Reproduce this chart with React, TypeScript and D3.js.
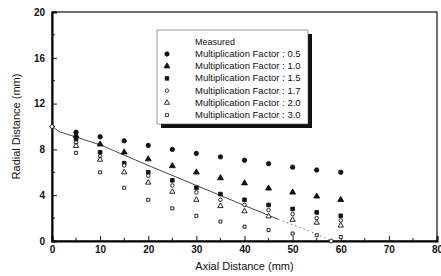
import React, { useEffect, useRef } from "react";
import * as d3 from "d3";

const axialPositions = [5, 10, 15, 20, 25, 30, 35, 40, 45, 50, 55, 60];
const factor05 = [9.5, 9.1, 8.75, 8.35, 8.0, 7.65, 7.35, 7.05, 6.75, 6.45, 6.2, 6.0];
const factor10 = [9.2, 8.45, 7.75, 7.15, 6.55, 6.0, 5.5, 5.05, 4.6, 4.25, 3.9, 3.6];
const factor15 = [8.9, 7.75, 6.8, 6.0, 5.3, 4.65, 4.1, 3.6, 3.15, 2.8, 2.5, 2.2];
const factor17 = [8.6, 7.4, 6.6, 5.7, 4.85, 4.25, 3.6, 3.15, 2.7, 2.35, 2.0, 1.8];
const factor20 = [8.3, 7.1, 6.0, 5.1, 4.3, 3.6, 3.05, 2.6, 2.15, 1.85, 1.6, 1.35];
const factor30 = [7.7, 6.0, 4.65, 3.6, 2.85, 2.2, 1.7, 1.25, 0.95, 0.65, 0.5, 0.35];

const seriesLabels = [
  "Multiplication Factor : 0.5",
  "Multiplication Factor : 1.0",
  "Multiplication Factor : 1.5",
  "Multiplication Factor : 1.7",
  "Multiplication Factor : 2.0",
  "Multiplication Factor : 3.0",
];

// calculated profile (solid part, then dotted tail)
const profileX = [0, 1.5, 10, 20, 30, 40, 47];
const profileY = [10, 9.55, 8.4, 6.6, 4.85, 3.1, 1.9];
const tailX = [47, 52, 55, 58];
const tailY = [1.9, 1.1, 0.6, 0];

const xTicks = [0, 10, 20, 30, 40, 50, 60, 70, 80];
const yTicks = [0, 4, 8, 12, 16, 20];

function App() {
  const ref = useRef<SVGSVGElement>(null);

  useEffect(() => {
    const svg = d3.select(ref.current);
    svg.selectAll("*").remove();

    const left = 52;
    const right = 437;
    const top = 12;
    const bottom = 241;
    const font = "Arial, 'Liberation Sans', sans-serif";

    const x = d3.scaleLinear().domain([0, 80]).range([left, right]);
    const y = d3.scaleLinear().domain([0, 20]).range([bottom, top]);

    // frame
    svg
      .append("rect")
      .attr("x", left)
      .attr("y", top)
      .attr("width", right - left)
      .attr("height", bottom - top)
      .attr("fill", "none")
      .attr("stroke", "#111")
      .attr("stroke-width", 1.2);

    // x axis, ticks pointing inward
    const xAxis = svg
      .append("g")
      .attr("transform", `translate(0,${bottom})`)
      .call(d3.axisBottom(x).tickValues(xTicks).tickSize(-5).tickPadding(7));
    xAxis.select(".domain").attr("stroke-width", 2);
    xAxis
      .append("g")
      .selectAll("line")
      .data(d3.range(5, 80, 10))
      .join("line")
      .attr("x1", (d) => x(d))
      .attr("x2", (d) => x(d))
      .attr("y1", 0)
      .attr("y2", -3)
      .attr("stroke", "#111");

    const yAxis = svg
      .append("g")
      .attr("transform", `translate(${left},0)`)
      .call(d3.axisLeft(y).tickValues(yTicks).tickSize(-5).tickPadding(7));
    yAxis.select(".domain").attr("stroke-width", 2);
    yAxis
      .append("g")
      .selectAll("line")
      .data(d3.range(2, 20, 4))
      .join("line")
      .attr("x1", 0)
      .attr("x2", 3)
      .attr("y1", (d) => y(d))
      .attr("y2", (d) => y(d))
      .attr("stroke", "#111");

    svg
      .selectAll(".tick text")
      .attr("font-family", font)
      .attr("font-size", 10)
      .attr("font-weight", "bold")
      .attr("fill", "#111");
    svg.selectAll(".tick line").attr("stroke", "#111");
    xAxis.selectAll(".tick text").attr("dy", "0.45em");

    // axis titles
    svg
      .append("text")
      .attr("x", (left + right) / 2)
      .attr("y", 270)
      .attr("text-anchor", "middle")
      .attr("font-family", font)
      .attr("font-size", 11)
      .attr("fill", "#111")
      .text("Axial Distance (mm)");

    svg
      .append("text")
      .attr("transform", `translate(20,${(top + bottom) / 2}) rotate(-90)`)
      .attr("text-anchor", "middle")
      .attr("font-family", font)
      .attr("font-size", 11)
      .attr("fill", "#111")
      .text("Radial Distance (mm)");

    // profile line
    const line = d3
      .line<[number, number]>()
      .x((d) => x(d[0]))
      .y((d) => y(d[1]));
    svg
      .append("path")
      .attr("d", line(profileX.map((v, i) => [v, profileY[i]])))
      .attr("fill", "none")
      .attr("stroke", "#333")
      .attr("stroke-width", 0.9);
    svg
      .append("path")
      .attr("d", line(tailX.map((v, i) => [v, tailY[i]])))
      .attr("fill", "none")
      .attr("stroke", "#555")
      .attr("stroke-width", 0.8)
      .attr("stroke-dasharray", "1.5,3");

    // markers
    const sym = (type: d3.SymbolType, size: number) =>
      d3.symbol().type(type).size(size)();
    const markers = [
      { values: factor05, d: sym(d3.symbolCircle, 15), fill: "#111" },
      { values: factor10, d: sym(d3.symbolTriangle, 15), fill: "#111" },
      { values: factor15, d: sym(d3.symbolSquare, 13), fill: "#111" },
      { values: factor17, d: sym(d3.symbolCircle, 10), fill: "white" },
      { values: factor20, d: sym(d3.symbolTriangle, 12), fill: "white" },
      { values: factor30, d: sym(d3.symbolSquare, 9), fill: "white" },
    ];

    markers.forEach((m) => {
      svg
        .append("g")
        .selectAll("path")
        .data(m.values)
        .join("path")
        .attr("transform", (d, i) => `translate(${x(axialPositions[i])},${y(d)})`)
        .attr("d", m.d)
        .attr("fill", m.fill)
        .attr("stroke", "#111")
        .attr("stroke-width", 0.9);
    });

    // end points of the profile
    svg
      .selectAll(".endpt")
      .data([
        [profileX[0], profileY[0]],
        [tailX[tailX.length - 1], tailY[tailY.length - 1]],
      ])
      .join("circle")
      .attr("cx", (d) => x(d[0]))
      .attr("cy", (d) => y(d[1]))
      .attr("r", 2)
      .attr("fill", "white")
      .attr("stroke", "#111")
      .attr("stroke-width", 0.9);

    // legend
    const lg = svg.append("g");
    const lx = 157;
    const ly = 30;
    const lw = 151;
    const lh = 94;
    lg.append("rect")
      .attr("x", lx + 4)
      .attr("y", ly + 4)
      .attr("width", lw)
      .attr("height", lh)
      .attr("fill", "#111");
    lg.append("rect")
      .attr("x", lx)
      .attr("y", ly)
      .attr("width", lw)
      .attr("height", lh)
      .attr("fill", "white")
      .attr("stroke", "#555")
      .attr("stroke-width", 0.6);
    lg.append("text")
      .attr("x", 195)
      .attr("y", 45)
      .attr("font-family", font)
      .attr("font-size", 9)
      .attr("fill", "#111")
      .text("Measured");
    markers.forEach((m, i) => {
      const yy = 54 + i * 12.2;
      lg.append("path")
        .attr("transform", `translate(167,${yy})`)
        .attr("d", m.d)
        .attr("fill", m.fill)
        .attr("stroke", "#111")
        .attr("stroke-width", 0.8);
      lg.append("text")
        .attr("x", 195)
        .attr("y", yy + 3)
        .attr("font-family", font)
        .attr("font-size", 9.5)
        .attr("fill", "#111")
        .text(seriesLabels[i]);
    });
  }, []);

  return (
    <svg
      ref={ref}
      width={441}
      height={276}
      style={{ position: "absolute", left: 0, top: 0, background: "white" }}
    />
  );
}

export default App;
